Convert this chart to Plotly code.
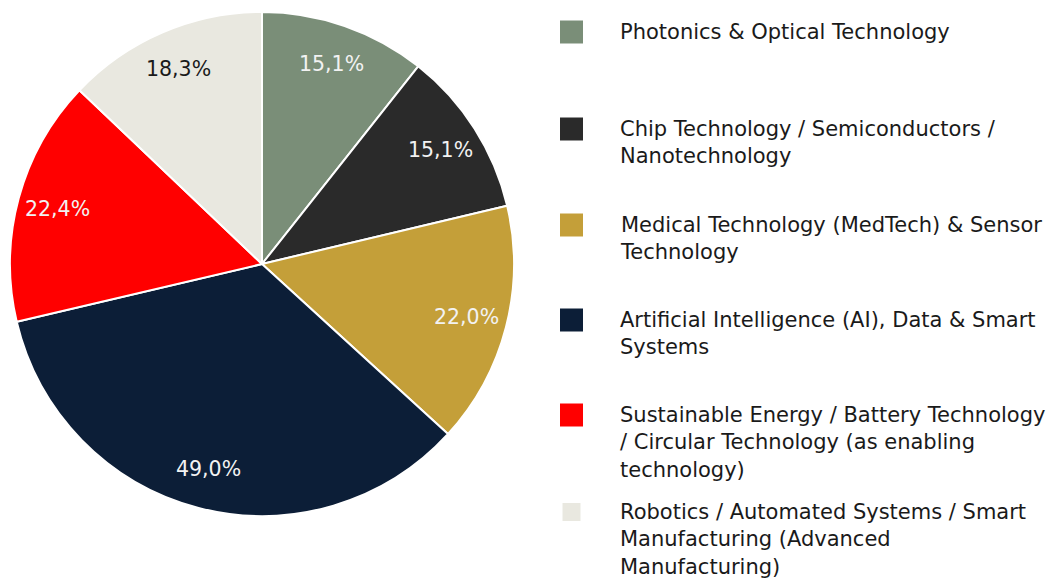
import math
import plotly.graph_objects as go

# slices, clockwise from 12 o'clock
categories = [
    "Photonics & Optical Technology",
    "Chip Technology / Semiconductors /<br>Nanotechnology",
    "Medical Technology (MedTech) & Sensor<br>Technology",
    "Artificial Intelligence (AI), Data & Smart<br>Systems",
    "Sustainable Energy / Battery Technology<br>/ Circular Technology (as enabling<br>technology)",
    "Robotics / Automated Systems / Smart<br>Manufacturing (Advanced<br>Manufacturing)",
]
values = [15.1, 15.1, 22.0, 49.0, 22.4, 18.3]
colors = ["#7A8E78", "#2A2A2A", "#C49F39", "#0C1E37", "#FF0000", "#E9E8E0"]
text_colors = ["#F2F2F2", "#F2F2F2", "#F2F2F2", "#F2F2F2", "#F2F2F2", "#1A1A1A"]

# page body has an 8px margin, so the figure is drawn 8px in from the corner
OFF = 8
W, H = 1057 - OFF, 578 - OFF
FONT = "DejaVu Sans"


def px(x):
    return (x - OFF) / W


def py(y):
    return 1 - (y - OFF) / H


CX, CY, R = 262, 264, 252

fig = go.Figure(go.Pie(
    labels=categories,
    values=values,
    sort=False,
    direction="clockwise",
    rotation=0,
    marker=dict(colors=colors, line=dict(color="white", width=2)),
    textinfo="none",
    hoverinfo="label+value",
    showlegend=False,
    domain=dict(x=[px(CX - R), px(CX + R)], y=[py(CY + R), py(CY - R)]),
))

# value labels near the outer part of each slice
total = sum(values)
cum = 0
for v, tc in zip(values, text_colors):
    ang = 2 * math.pi * (cum + v / 2) / total
    cum += v
    fig.add_annotation(
        x=px(CX + 0.84 * R * math.sin(ang)), y=py(CY - 0.84 * R * math.cos(ang)),
        xref="paper", yref="paper", showarrow=False,
        xanchor="center", yanchor="middle",
        text=f"{v:.1f}%".replace(".", ","),
        font=dict(family=FONT, size=20.5, color=tc),
    )

# hand-made legend: square + wrapped label
legend_rows = [33, 130, 226, 321, 416, 513]   # px, centre of first text line
for i, (cat, col, yc) in enumerate(zip(categories, colors, legend_rows)):
    half = 9 if i == 5 else 11.5
    fig.add_shape(
        type="rect", xref="paper", yref="paper",
        x0=px(571.5 - half), x1=px(571.5 + half),
        y0=py(yc - 1 - half), y1=py(yc - 1 + half),
        fillcolor=col, line=dict(width=0),
    )
    fig.add_annotation(
        x=px(618), y=py(yc - 15), xref="paper", yref="paper",
        xanchor="left", yanchor="top", align="left",
        text=cat, showarrow=False,
        font=dict(family=FONT, size=21, color="#1A1A1A"),
    )

fig.update_layout(
    width=W, height=H,
    margin=dict(l=0, r=0, t=0, b=0),
    paper_bgcolor="white",
    plot_bgcolor="white",
    font=dict(family=FONT),
)

fig.write_html("out.html")
